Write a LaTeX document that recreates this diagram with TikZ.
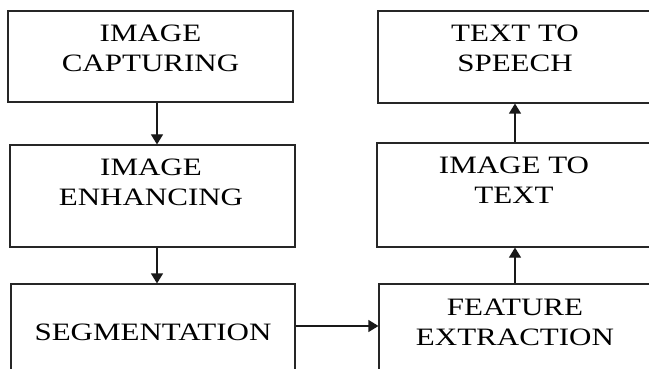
\documentclass[tikz,border=0pt]{standalone}
\usepackage{fontspec}
\setmainfont[FakeStretch=1.24]{Liberation Serif}
\usetikzlibrary{arrows.meta}
\tikzset{
  box/.style={draw=black!85, line width=1.2pt, rectangle, inner sep=0pt},
  lbl/.style={anchor=north, inner sep=0pt, align=center, font=\fontsize{25}{29.5}\selectfont},
  arr/.style={draw=black!90, line width=1.2pt, -{Triangle[width=12pt,length=10pt]}}
}
\begin{document}
\begin{tikzpicture}[x=1pt,y=-1pt]
\useasboundingbox (0,0) rectangle (649,369);
\clip (0,0) rectangle (649,369);
% left column
\node[box, minimum width=285pt, minimum height=91pt] (b1) at (150.5,56.5) {};
\node[box, minimum width=285pt, minimum height=102pt] (b2) at (152.5,196) {};
\node[box, minimum width=284pt, minimum height=136pt] (b3) at (153,352) {};
% right column
\node[box, minimum width=274pt, minimum height=92pt] (b4) at (515,57) {};
\node[box, minimum width=276pt, minimum height=104pt] (b5) at (515,195) {};
\node[box, minimum width=272pt, minimum height=136pt] (b6) at (515,352) {};
% labels
\node[lbl] (t1) at (150.5,25) {IMAGE\\CAPTURING};
\node[lbl] (t2) at (151,159) {IMAGE\\ENHANCING};
\node[lbl] (t3) at (153,324) {SEGMENTATION};
\node[lbl] (t4) at (515,25) {TEXT TO\\SPEECH};
\node[lbl] (t5) at (514,157) {IMAGE TO\\TEXT};
\node[lbl] (t6) at (515,299) {FEATURE\\EXTRACTION};
% connectors
\draw[arr] ([xshift=6.5pt]b1.south) -- ([xshift=6.5pt]b1.south |- b2.north);
\draw[arr] ([xshift=4.5pt]b2.south) -- ([xshift=4.5pt]b2.south |- b3.north);
\draw[arr] ([yshift=26pt]b3.east) -- ([yshift=26pt]b3.east -| b6.west);
\draw[arr] (b6.north) -- (b5.south);
\draw[arr] (b5.north) -- (b4.south);
\end{tikzpicture}
\end{document}
